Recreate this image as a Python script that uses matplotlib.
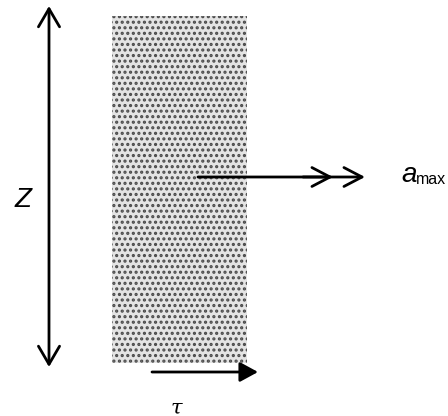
import matplotlib
matplotlib.use("Agg")
import matplotlib.pyplot as plt
from matplotlib.patches import Rectangle

# diagram geometry, in pixels of the 448x416 picture (y grows downward)
W, H = 448, 416
block_x = [112, 247]
block_y = [16, 363]
z_arrow = [49, 6, 367]          # x, top, bottom
a_arrow = [198, 333, 365, 177]  # start x, first head x, second head x, y
tau_arrow = [152, 258, 372]     # start x, end x, y
labels = ["Z", "a", "max", "τ"]

plt.rcParams["hatch.linewidth"] = 1.5

fig = plt.figure(figsize=(W / 100, H / 100), dpi=100)
ax = fig.add_axes([0, 0, 1, 1])
ax.set_xlim(0, W)
ax.set_ylim(H, 0)
ax.axis("off")

# dotted block: light fill, then dot hatch on top
ax.add_patch(Rectangle((block_x[0], block_y[0]), block_x[1] - block_x[0],
                       block_y[1] - block_y[0], facecolor="#e4e4e4",
                       edgecolor="none", lw=0))
ax.add_patch(Rectangle((block_x[0], block_y[0]), block_x[1] - block_x[0],
                       block_y[1] - block_y[0], facecolor="none",
                       edgecolor="#4a4a4a", hatch="...", lw=0))

# Z double arrow
ax.annotate("", xy=(z_arrow[0], z_arrow[1]), xytext=(z_arrow[0], z_arrow[2]),
            arrowprops=dict(arrowstyle="<->,head_length=0.65,head_width=0.38",
                            mutation_scale=20, lw=2, color="black",
                            shrinkA=0, shrinkB=0))
ax.text(23, 200, labels[0], fontsize=20, fontstyle="italic",
        family="Liberation Sans", ha="center", va="center")

# a_max arrow with double open head
ax.annotate("", xy=(a_arrow[2], a_arrow[3]), xytext=(a_arrow[0], a_arrow[3]),
            arrowprops=dict(arrowstyle="->,head_length=0.65,head_width=0.34",
                            mutation_scale=20, lw=2, color="black",
                            shrinkA=0, shrinkB=0))
ax.annotate("", xy=(a_arrow[1], a_arrow[3]), xytext=(a_arrow[1] - 30, a_arrow[3]),
            arrowprops=dict(arrowstyle="->,head_length=0.65,head_width=0.34",
                            mutation_scale=20, lw=2, color="black",
                            shrinkA=0, shrinkB=0))
ax.text(401, 182, labels[1], fontsize=20, fontstyle="italic",
        family="Liberation Sans", ha="left", va="baseline")
ax.text(416, 184, labels[2], fontsize=11.5, family="Liberation Sans",
        ha="left", va="baseline")

# tau arrow
ax.annotate("", xy=(tau_arrow[1], tau_arrow[2]), xytext=(tau_arrow[0], tau_arrow[2]),
            arrowprops=dict(arrowstyle="-|>,head_length=0.55,head_width=0.3",
                            mutation_scale=20, lw=2, color="black",
                            shrinkA=0, shrinkB=0))
ax.text(176, 408, labels[3], fontsize=15, fontstyle="italic",
        family="DejaVu Serif", ha="center", va="center")

fig.savefig("out.png", dpi=100)
